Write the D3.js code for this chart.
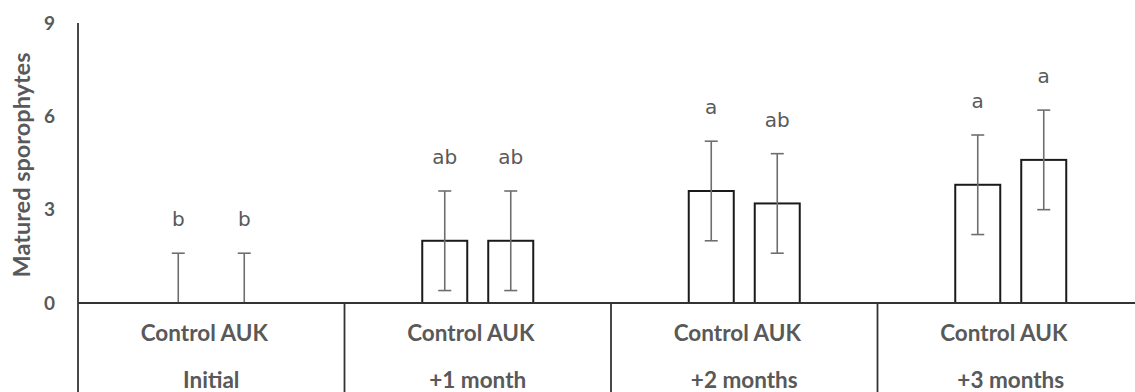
<!DOCTYPE html>
<html>
<head>
<meta charset="utf-8">
<script src="https://cdn.jsdelivr.net/npm/d3@7"></script>
<style>
  body { margin: 0; background: #fff; }
  svg { display: block; }
</style>
</head>
<body>
<div id="chart"></div>
<script>
// values
const groups = ["Initial", "+1 month", "+2 months", "+3 months"];
const series = ["Control", "AUK"];
const controlMean = [0, 2.0, 3.6, 3.8];
const aukMean = [0, 2.0, 3.2, 4.6];
const controlErr = [1.6, 1.6, 1.6, 1.6];
const aukErr = [1.6, 1.6, 1.6, 1.6];
const controlLetters = ["b", "ab", "a", "a"];
const aukLetters = ["b", "ab", "ab", "a"];
const yTicks = [0, 3, 6, 9];
const yTitle = "Matured sporophytes";

const width = 1135, height = 392;
const margin = {top: 23, left: 78, zero: 303};
const textColor = "#595959";
const labelFont = "Lato, 'Open Sans', sans-serif";

// one row per bar, built from the arrays above
const rows = [];
groups.forEach((g, i) => {
    rows.push({group: g, series: "Control", mean: controlMean[i], err: controlErr[i], letter: controlLetters[i]});
    rows.push({group: g, series: "AUK", mean: aukMean[i], err: aukErr[i], letter: aukLetters[i]});
});

const svg = d3.select("#chart")
    .append("svg")
    .attr("width", width)
    .attr("height", height);

const xGroup = d3.scaleBand()
    .domain(groups)
    .range([margin.left, margin.left + 4 * 266.5])
    .padding(0);

const xSeries = d3.scalePoint()
    .domain(series)
    .range([0, xGroup.bandwidth()])
    .padding(1.519);

const yScale = d3.scaleLinear()
    .domain([0, 9])
    .range([margin.zero, margin.top]);

const barW = 45;
const cx = d => xGroup(d.group) + xSeries(d.series);

// y tick labels (no tick marks in the original)
svg.append("g")
    .selectAll("text")
    .data(yTicks)
    .enter()
    .append("text")
        .attr("x", 55)
        .attr("y", d => yScale(d))
        .attr("dy", "0.35em")
        .attr("text-anchor", "end")
        .style("font-family", labelFont)
        .style("font-weight", "bold")
        .style("font-size", "19px")
        .style("fill", textColor)
        .text(d => d);

// y title
svg.append("text")
    .attr("transform", "translate(30,165) rotate(-90)")
    .attr("text-anchor", "middle")
    .style("font-family", labelFont)
    .style("font-weight", "bold")
    .style("font-size", "23.5px")
    .style("fill", textColor)
    .text(yTitle);

// bars
svg.append("g")
    .selectAll("rect")
    .data(rows.filter(d => d.mean > 0))
    .enter()
    .append("rect")
        .attr("x", d => cx(d) - barW / 2)
        .attr("y", d => yScale(d.mean))
        .attr("width", barW)
        .attr("height", d => yScale(0) - yScale(d.mean))
        .style("fill", "#fff")
        .style("stroke", "#1a1a1a")
        .style("stroke-width", 2);

// error bars
const errG = svg.append("g")
    .style("stroke", "#6e6e6e")
    .style("stroke-width", 1.6);

rows.forEach(d => {
    const lo = Math.max(0, d.mean - d.err);
    const hi = d.mean + d.err;
    const x = cx(d);
    errG.append("line")
        .attr("x1", x).attr("x2", x)
        .attr("y1", yScale(lo)).attr("y2", yScale(hi));
    errG.append("line")
        .attr("x1", x - 6.5).attr("x2", x + 6.5)
        .attr("y1", yScale(hi)).attr("y2", yScale(hi));
    if (d.mean - d.err > 0) {
        errG.append("line")
            .attr("x1", x - 6.5).attr("x2", x + 6.5)
            .attr("y1", yScale(lo)).attr("y2", yScale(lo));
    }
});

// significance letters
svg.append("g")
    .selectAll("text")
    .data(rows)
    .enter()
    .append("text")
        .attr("x", d => cx(d))
        .attr("y", d => yScale(d.mean + d.err) - 27)
        .attr("text-anchor", "middle")
        .style("font-family", "'DejaVu Sans', Verdana, sans-serif")
        .style("font-size", "20px")
        .style("fill", textColor)
        .text(d => d.letter);

// axes lines
const axisColor = "#333";
svg.append("line")
    .attr("x1", margin.left).attr("x2", width)
    .attr("y1", yScale(0)).attr("y2", yScale(0))
    .style("stroke", axisColor).style("stroke-width", 1.8);

svg.append("line")
    .attr("x1", margin.left).attr("x2", margin.left)
    .attr("y1", margin.top).attr("y2", height)
    .style("stroke", axisColor).style("stroke-width", 1.8);

// group separators below the zero line
svg.append("g")
    .selectAll("line")
    .data(groups.slice(1))
    .enter()
    .append("line")
        .attr("x1", d => xGroup(d)).attr("x2", d => xGroup(d))
        .attr("y1", yScale(0)).attr("y2", height)
        .style("stroke", axisColor)
        .style("stroke-width", 1.8);

// series labels under each bar
svg.append("g")
    .selectAll("text")
    .data(rows)
    .enter()
    .append("text")
        .attr("x", d => cx(d))
        .attr("y", 341)
        .attr("text-anchor", "middle")
        .style("font-family", labelFont)
        .style("font-weight", "bold")
        .style("font-size", "22.5px")
        .style("fill", textColor)
        .text(d => d.series);

// group labels
svg.append("g")
    .selectAll("text")
    .data(groups)
    .enter()
    .append("text")
        .attr("x", d => xGroup(d) + xGroup.bandwidth() / 2)
        .attr("y", 388)
        .attr("text-anchor", "middle")
        .style("font-family", labelFont)
        .style("font-weight", "bold")
        .style("font-size", "22.5px")
        .style("fill", textColor)
        .text(d => d);
</script>
</body>
</html>
